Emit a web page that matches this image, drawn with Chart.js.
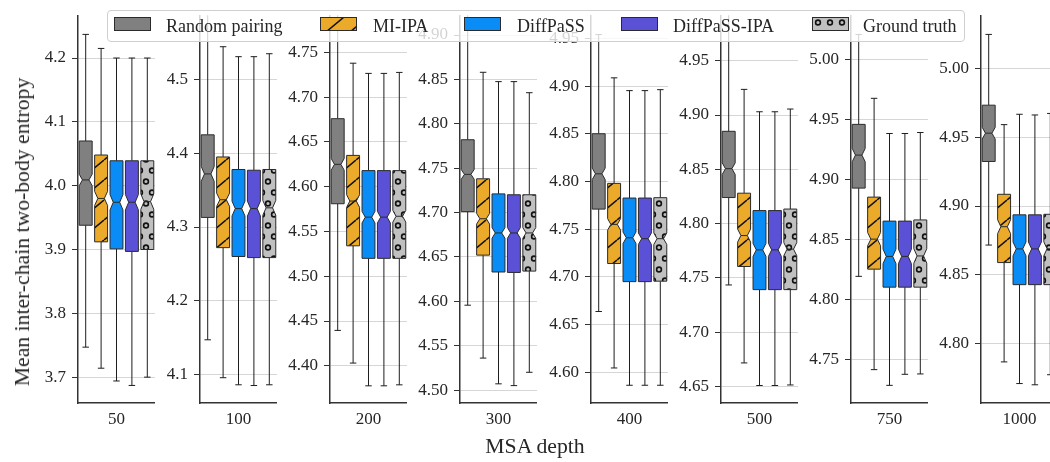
<!DOCTYPE html>
<html><head><meta charset="utf-8">
<script src="https://cdn.jsdelivr.net/npm/chart.js@4.4.1/dist/chart.umd.min.js"></script>
<style>
html,body{margin:0;padding:0;background:#fff;}
#wrap{position:relative;width:1050px;height:462px;overflow:hidden;font-family:'Liberation Serif','Times New Roman',serif;color:#262626;}
canvas.panel{position:absolute;top:0;}
#legend{position:absolute;left:107px;top:10px;width:858px;height:32px;background:rgba(255,255,255,0.8);border:1px solid #cfcfcf;border-radius:4px;box-sizing:border-box;z-index:10;}
.lgpatch{position:absolute;top:17px;z-index:11;}
.lgtext{position:absolute;top:16.5px;font-size:18px;line-height:18px;white-space:nowrap;z-index:11;color:#262626;}
.title{position:absolute;font-size:21.7px;line-height:22px;white-space:nowrap;transform:translate(-50%,-50%);}
</style></head><body>
<div id="wrap"></div>
<script>
// ---------------- data ----------------
const seriesNames = ['Random pairing', 'MI-IPA', 'DiffPaSS', 'DiffPaSS-IPA', 'Ground truth'];
const depths = ['50', '100', '200', '300', '400', '500', '750', '1000'];
// rows: MSA depth; columns: series (same order as seriesNames)
const whiskerHigh = [
  [4.237, 4.215, 4.200, 4.200, 4.200],
  [4.620, 4.5445, 4.531, 4.531, 4.535],
  [4.800, 4.738, 4.7266, 4.7266, 4.7277],
  [4.930, 4.858, 4.8475, 4.8475, 4.835],
  [4.954, 4.9086, 4.8952, 4.8952, 4.8962],
  [5.000, 4.9236, 4.903, 4.903, 4.9055],
  [5.0205, 4.9673, 4.938, 4.938, 4.9388],
  [5.0244, 4.959, 4.9665, 4.966, 4.9671]
];
const q3 = [
  [4.070, 4.048, 4.039, 4.039, 4.039],
  [4.425, 4.395, 4.378, 4.377, 4.378],
  [4.676, 4.635, 4.618, 4.618, 4.618],
  [4.782, 4.738, 4.721, 4.720, 4.720],
  [4.850, 4.798, 4.7826, 4.7826, 4.783],
  [4.885, 4.828, 4.812, 4.812, 4.8134],
  [4.9456, 4.885, 4.865, 4.865, 4.866],
  [4.9731, 4.9085, 4.8936, 4.8936, 4.894]
];
const medians = [
  [4.009, 3.980, 3.974, 3.974, 3.975],
  [4.372, 4.337, 4.325, 4.325, 4.326],
  [4.625, 4.584, 4.566, 4.566, 4.567],
  [4.743, 4.693, 4.677, 4.677, 4.677],
  [4.808, 4.755, 4.741, 4.740, 4.740],
  [4.8506, 4.789, 4.7758, 4.7758, 4.7765],
  [4.920, 4.850, 4.8356, 4.8356, 4.836],
  [4.9528, 4.885, 4.8689, 4.8689, 4.869]
];
const q1 = [
  [3.938, 3.912, 3.901, 3.897, 3.900],
  [4.313, 4.272, 4.260, 4.2585, 4.2585],
  [4.581, 4.534, 4.520, 4.520, 4.520],
  [4.701, 4.652, 4.633, 4.6325, 4.634],
  [4.771, 4.714, 4.695, 4.695, 4.6955],
  [4.824, 4.7605, 4.7392, 4.7392, 4.7392],
  [4.8925, 4.825, 4.810, 4.810, 4.810],
  [4.9323, 4.859, 4.843, 4.843, 4.843]
];
const whiskerLow = [
  [3.747, 3.714, 3.694, 3.687, 3.700],
  [4.147, 4.0956, 4.086, 4.085, 4.086],
  [4.4395, 4.403, 4.3776, 4.3776, 4.3787],
  [4.5956, 4.536, 4.507, 4.505, 4.520],
  [4.6637, 4.6045, 4.5864, 4.5864, 4.5864],
  [4.7435, 4.6717, 4.6509, 4.6509, 4.6514],
  [4.819, 4.7413, 4.7282, 4.7374, 4.7377],
  [4.8717, 4.787, 4.7713, 4.7704, 4.7777]
];
// half-height of the notch (confidence interval around the median)
const notchHalf = [
  [0.009, 0.011, 0.012, 0.012, 0.012],
  [0.010, 0.009, 0.010, 0.010, 0.010],
  [0.0065, 0.007, 0.0065, 0.0065, 0.0065],
  [0.0055, 0.006, 0.006, 0.006, 0.006],
  [0.006, 0.006, 0.006, 0.006, 0.006],
  [0.0053, 0.006, 0.006, 0.006, 0.006],
  [0.0055, 0.0055, 0.006, 0.006, 0.006],
  [0.0042, 0.005, 0.005, 0.005, 0.005]
];
const yMin = [3.6595, 4.0613, 4.3584, 4.4854, 4.5678, 4.6348, 4.7135, 4.7572];
const yMax = [4.2655, 4.5859, 4.7905, 4.9212, 4.9732, 4.9910, 5.0357, 5.0376];
const yTicks = [
  [3.7, 3.8, 3.9, 4.0, 4.1, 4.2],
  [4.1, 4.2, 4.3, 4.4, 4.5],
  [4.40, 4.45, 4.50, 4.55, 4.60, 4.65, 4.70, 4.75],
  [4.50, 4.55, 4.60, 4.65, 4.70, 4.75, 4.80, 4.85, 4.90],
  [4.60, 4.65, 4.70, 4.75, 4.80, 4.85, 4.90, 4.95],
  [4.65, 4.70, 4.75, 4.80, 4.85, 4.90, 4.95],
  [4.75, 4.80, 4.85, 4.90, 4.95, 5.00],
  [4.80, 4.85, 4.90, 4.95, 5.00]
];
const yDecimals = [1, 1, 2, 2, 2, 2, 2, 2];

// ---------------- styles / layout ----------------
const seriesColors = ['#808080', '#EBAA2A', '#0A8CF6', '#5A51D7', '#C0C0C0'];
const seriesHatch = ['none', 'slash', 'none', 'none', 'dots'];
const panelLeft = [78, 200, 330, 460, 591, 721, 851, 981];
const AXW = 70, PLOTW = 77, FONT = "'Liberation Serif', 'Times New Roman', serif";

function makeTile(kind, color) {
  const c = document.createElement('canvas');
  const g = c.getContext('2d');
  if (kind === 'slash') {
    c.width = 24; c.height = 20;
    g.fillStyle = color; g.fillRect(0, 0, 24, 20);
    g.strokeStyle = '#111'; g.lineWidth = 1.5;
    g.beginPath();
    for (const dx of [-24, 0, 24]) { g.moveTo(dx, 20); g.lineTo(dx + 24, 0); }
    g.stroke();
  } else if (kind === 'dots') {
    c.width = 12; c.height = 22;
    g.fillStyle = color; g.fillRect(0, 0, 12, 22);
    g.strokeStyle = '#111'; g.lineWidth = 1.6;
    for (const [x, y] of [[6, 5.5], [0, 16.5], [12, 16.5]]) {
      g.beginPath(); g.arc(x, y, 2.4, 0, Math.PI * 2); g.stroke();
    }
  } else {
    c.width = 4; c.height = 4;
    g.fillStyle = color; g.fillRect(0, 0, 4, 4);
  }
  return c;
}
const tiles = seriesColors.map((c, s) => makeTile(seriesHatch[s], c));

const notchBoxPlugin = {
  id: 'notchbox',
  afterDatasetsDraw(chart, args, opts) {
    const p = opts.panel;
    const { ctx, chartArea: a } = chart;
    const y = chart.scales.y;
    const Y = v => y.getPixelForValue(v);
    ctx.save();
    ctx.beginPath();
    ctx.rect(a.left, a.top - 1, a.right - a.left + 2, a.bottom - a.top + 1);
    ctx.clip();
    chart.data.datasets.forEach((ds, s) => {
      const el = chart.getDatasetMeta(s).data[0];
      const cx = el.x, w = el.width;
      const L = cx - w / 2, R = cx + w / 2, nl = cx - w / 4, nr = cx + w / 4;
      const pq1 = Y(q1[p][s]), pq3 = Y(q3[p][s]), pmd = Y(medians[p][s]);
      const plo = Y(medians[p][s] - notchHalf[p][s]), phi = Y(medians[p][s] + notchHalf[p][s]);
      const pwh = Y(whiskerHigh[p][s]), pwl = Y(whiskerLow[p][s]);
      // whiskers + caps
      ctx.strokeStyle = '#1e1e1e'; ctx.lineWidth = 1;
      ctx.beginPath();
      ctx.moveTo(cx, pq3); ctx.lineTo(cx, pwh);
      ctx.moveTo(cx - w / 4, pwh); ctx.lineTo(cx + w / 4, pwh);
      ctx.moveTo(cx, pq1); ctx.lineTo(cx, pwl);
      ctx.moveTo(cx - w / 4, pwl); ctx.lineTo(cx + w / 4, pwl);
      ctx.stroke();
      // notched box
      ctx.beginPath();
      ctx.moveTo(L, pq1); ctx.lineTo(R, pq1); ctx.lineTo(R, plo); ctx.lineTo(nr, pmd);
      ctx.lineTo(R, phi); ctx.lineTo(R, pq3); ctx.lineTo(L, pq3); ctx.lineTo(L, phi);
      ctx.lineTo(nl, pmd); ctx.lineTo(L, plo); ctx.closePath();
      ctx.fillStyle = ctx.createPattern(tiles[s], 'repeat');
      ctx.fill();
      ctx.strokeStyle = '#2b2b2b'; ctx.lineWidth = 1;
      ctx.stroke();
      // median
      ctx.beginPath(); ctx.moveTo(nl, pmd); ctx.lineTo(nr, pmd); ctx.stroke();
    });
    ctx.restore();
  }
};

const wrap = document.getElementById('wrap');
depths.forEach((d, i) => {
  const cv = document.createElement('canvas');
  cv.className = 'panel';
  cv.width = AXW + PLOTW; cv.height = 462;
  cv.style.left = (panelLeft[i] - AXW) + 'px';
  wrap.appendChild(cv);
  new Chart(cv, {
    type: 'bar',
    data: {
      labels: [d],
      datasets: seriesNames.map((n, s) => ({
        label: n,
        data: [[q1[i][s], q3[i][s]]],
        backgroundColor: 'rgba(0,0,0,0)', borderWidth: 0,
        categoryPercentage: 1.0, barPercentage: 0.84
      }))
    },
    options: {
      responsive: false, animation: false, events: [],
      layout: { padding: { left: 0, right: 0, top: 6, bottom: 0 } },
      plugins: { legend: { display: false }, tooltip: { enabled: false }, notchbox: { panel: i } },
      scales: {
        x: {
          grid: { display: false, drawTicks: false },
          border: { display: true, color: '#333', width: 1.5 },
          ticks: { font: { family: FONT, size: 17 }, color: '#262626', padding: 6 },
          afterFit: s => { s.height = 59; }
        },
        y: {
          min: yMin[i], max: yMax[i],
          afterBuildTicks: s => { s.ticks = yTicks[i].map(v => ({ value: v })); },
          ticks: { autoSkip: false, padding: 6, color: '#262626',
                   font: { family: FONT, size: 17 },
                   callback: v => Number(v).toFixed(yDecimals[i]) },
          grid: { color: '#d6d6d6', lineWidth: 1, tickColor: '#333', tickLength: 6 },
          border: { display: true, color: '#333', width: 1.5 },
          afterFit: s => { s.width = AXW; }
        }
      }
    },
    plugins: [notchBoxPlugin]
  });
});

// legend
const lg = document.createElement('div'); lg.id = 'legend'; wrap.appendChild(lg);
const patchX = [114, 320, 464, 621, 812];
const textX = [166, 373, 517, 673, 863];
seriesNames.forEach((n, s) => {
  const pc = document.createElement('canvas');
  pc.width = 37; pc.height = 14; pc.className = 'lgpatch';
  pc.style.left = patchX[s] + 'px';
  const g = pc.getContext('2d');
  g.fillStyle = g.createPattern(tiles[s], 'repeat');
  g.fillRect(0, 0, 37, 14);
  g.strokeStyle = '#2b2b2b'; g.lineWidth = 1; g.strokeRect(0.5, 0.5, 36, 13);
  wrap.appendChild(pc);
  const t = document.createElement('div');
  t.className = 'lgtext'; t.textContent = n; t.style.left = textX[s] + 'px';
  wrap.appendChild(t);
});

// axis titles
const xt = document.createElement('div'); xt.className = 'title';
xt.textContent = 'MSA depth'; xt.style.left = '535px'; xt.style.top = '446px';
wrap.appendChild(xt);
const yt = document.createElement('div'); yt.className = 'title';
yt.textContent = 'Mean inter-chain two-body entropy';
yt.style.left = '22px'; yt.style.top = '232px';
yt.style.transform = 'translate(-50%,-50%) rotate(-90deg)';
wrap.appendChild(yt);
</script>
</body></html>
